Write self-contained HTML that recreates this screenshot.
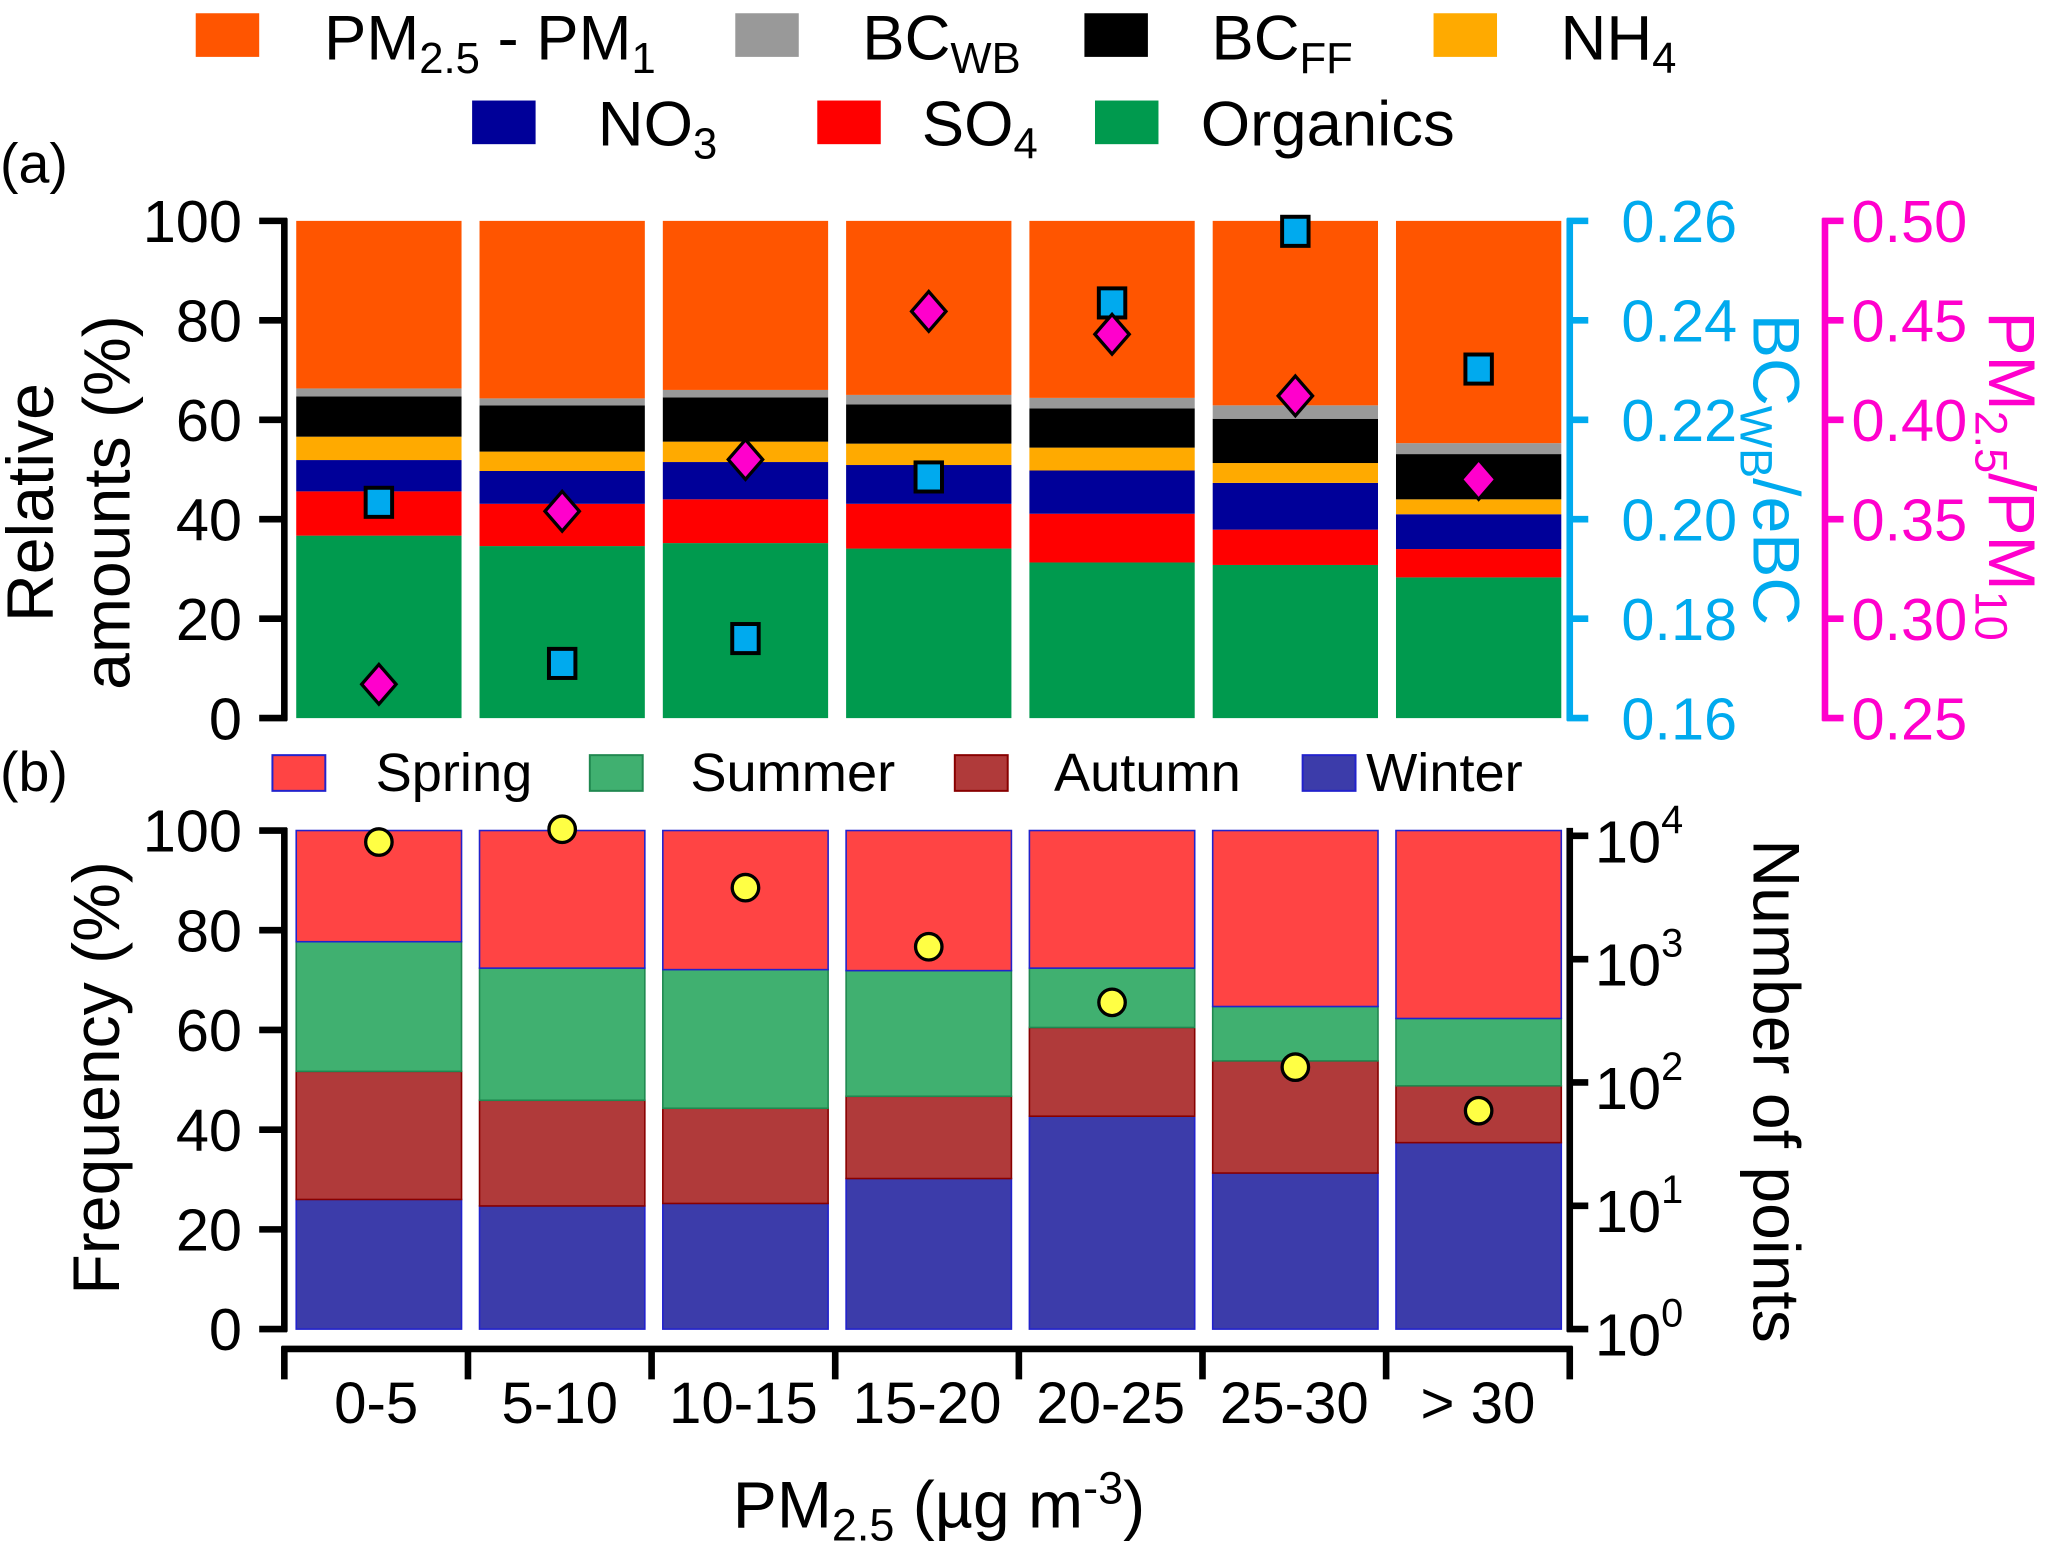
<!DOCTYPE html>
<html><head><meta charset="utf-8"><style>
html,body{margin:0;padding:0;background:#fff}
svg{display:block}
text{font-family:"Liberation Sans",Arial,sans-serif}
</style></head><body>
<svg id="chart" width="2067" height="1546" viewBox="0 0 1563 1169" xmlns="http://www.w3.org/2000/svg">
<g id="legend-top" font-size="48">
 <rect x="148" y="10" width="48" height="33" fill="#FF5500"/>
 <text x="245" y="45">PM<tspan font-size="33" dy="10">2.5</tspan><tspan dy="-10"> - PM</tspan><tspan font-size="33" dy="10">1</tspan></text>
 <rect x="556" y="10" width="48" height="33" fill="#999999"/>
 <text x="652" y="45">BC<tspan font-size="33" dy="10">WB</tspan></text>
 <rect x="820" y="10" width="48" height="33" fill="#000000"/>
 <text x="916" y="45">BC<tspan font-size="33" dy="10">FF</tspan></text>
 <rect x="1084" y="10" width="48" height="33" fill="#FFAA00"/>
 <text x="1180" y="45">NH<tspan font-size="33" dy="10">4</tspan></text>
 <rect x="357" y="76" width="48" height="33" fill="#000099"/>
 <text x="452" y="110">NO<tspan font-size="33" dy="10">3</tspan></text>
 <rect x="618" y="76" width="48" height="33" fill="#FF0000"/>
 <text x="697" y="110">SO<tspan font-size="33" dy="10">4</tspan></text>
 <rect x="828" y="76" width="48" height="33" fill="#009A4E"/>
 <text x="908" y="110">Organics</text>
</g>
<text x="0" y="138" font-size="42">(a)</text>
<text x="0" y="598" font-size="42">(b)</text>
<g id="legend-bottom" font-size="41">
 <rect x="206" y="571" width="40" height="27" fill="#FF4444" stroke="#2222cc" stroke-width="1.5"/>
 <text x="284" y="598">Spring</text>
 <rect x="446" y="571" width="40" height="27" fill="#40B070" stroke="#208850" stroke-width="1.5"/>
 <text x="522" y="598">Summer</text>
 <rect x="722" y="571" width="40" height="27" fill="#B03A3A" stroke="#880000" stroke-width="1.5"/>
 <text x="797" y="598">Autumn</text>
 <rect x="985" y="571" width="40" height="27" fill="#3C3CAA" stroke="#2222cc" stroke-width="1.5"/>
 <text x="1033" y="598">Winter</text>
</g>
<g id="top-bars"></g>
<g id="top-markers"></g>
<g id="bot-bars"></g>
<g id="bot-markers"></g>
<g id="axes"></g>
<text transform="translate(40,380) rotate(-90)" text-anchor="middle" font-size="50">Relative</text>
<text transform="translate(98,380) rotate(-90)" text-anchor="middle" font-size="50">amounts (%)</text>
<text transform="translate(1326,355) rotate(90)" text-anchor="middle" font-size="50" fill="#00AAEE">BC<tspan font-size="34" dy="10">WB</tspan><tspan dy="-10">/eBC</tspan></text>
<text transform="translate(1504,360) rotate(90)" text-anchor="middle" font-size="50" fill="#FF00CC">PM<tspan font-size="34" dy="10">2.5</tspan><tspan dy="-10">/PM</tspan><tspan font-size="34" dy="10">10</tspan></text>
<text transform="translate(90,815) rotate(-90)" text-anchor="middle" font-size="50">Frequency (%)</text>
<text transform="translate(1326,825) rotate(90)" text-anchor="middle" font-size="50">Number of points</text>
<text x="710" y="1155" text-anchor="middle" font-size="50">PM<tspan font-size="34" dy="10">2.5</tspan><tspan dy="-10"> (µg m</tspan><tspan font-size="34" dy="-18">-3</tspan><tspan dy="18">)</tspan></text>
</svg>
<script>
const categories = ["0-5","5-10","10-15","15-20","20-25","25-30","> 30"];
const organics = [36.7,34.6,35.2,34.1,31.3,30.8,28.3];
const so4Top   = [45.6,43.1,44.0,43.1,41.1,37.9,34.0];
const no3Top   = [51.9,49.7,51.5,50.9,49.8,47.3,41.0];
const nh4Top   = [56.6,53.6,55.6,55.2,54.4,51.3,44.0];
const bcffTop  = [64.7,62.9,64.5,63.1,62.3,60.2,53.1];
const bcwbTop  = [66.3,64.3,66.0,65.0,64.4,62.9,55.3];
const ratioBC  = [0.2034,0.171,0.176,0.2085,0.2435,0.2579,0.2302];
const ratioPM  = [0.267,0.354,0.380,0.4545,0.443,0.412,0.370];
const topTicks = [0,20,40,60,80,100];
const bcTicks  = ["0.16","0.18","0.20","0.22","0.24","0.26"];
const pmTicks  = ["0.25","0.30","0.35","0.40","0.45","0.50"];
const winterTop = [26.0,24.7,25.2,30.2,42.7,31.3,37.4];
const autumnTop = [51.7,45.9,44.3,46.7,60.5,53.8,48.8];
const summerTop = [77.7,72.4,72.1,71.9,72.4,64.7,62.3];
const nPoints   = [8900,11300,3800,1260,446,133,59];
const logTicks  = [0,1,2,3,4];

const NS="http://www.w3.org/2000/svg";
function mk(tag,attrs,parent){const e=document.createElementNS(NS,tag);for(const k in attrs)e.setAttribute(k,attrs[k]);parent.appendChild(e);return e;}
const bx0=224, pitch=138.6, bw=125;
const xLeft=i=>bx0+i*pitch, xMid=i=>bx0+i*pitch+bw/2;
const yTop=v=>543-v*3.76;
const yBot=v=>1005-v*3.77;
const yBC=v=>yTop((v-0.16)/0.10*100);
const yPM=v=>yTop((v-0.25)/0.25*100);
const yLog=n=>1005-Math.log10(n)*93.25;

const tb=document.getElementById('top-bars');
const layers=[[null,organics,'#009A4E','organics'],[organics,so4Top,'#FF0000','so4'],[so4Top,no3Top,'#000099','no3'],[no3Top,nh4Top,'#FFAA00','nh4'],[nh4Top,bcffTop,'#000000','bcff'],[bcffTop,bcwbTop,'#999999','bcwb'],[bcwbTop,null,'#FF5500','pm25-pm1']];
categories.forEach((c,i)=>{
 layers.forEach(L=>{
  const lo=L[0]?L[0][i]:0, hi=L[1]?L[1][i]:100;
  const r=mk('rect',{x:xLeft(i),y:yTop(hi),width:bw,height:yTop(lo)-yTop(hi),fill:L[2]},tb);
  
  
 });
});
const tm=document.getElementById('top-markers');
categories.forEach((c,i)=>{
 const cx=xMid(i), sy=yBC(ratioBC[i]);
 const s=mk('rect',{x:cx-10,y:sy-11,width:20,height:22,fill:'#00AAEE',stroke:'#000','stroke-width':3},tm);
 
 
 const dy=yPM(ratioPM[i]);
 const d=mk('polygon',{points:`${cx},${dy-15} ${cx+13},${dy} ${cx},${dy+15} ${cx-13},${dy}`,fill:'#FF00CC',stroke:'#000','stroke-width':2.5},tm);
 
 
});
const bb=document.getElementById('bot-bars');
const sl=[[null,winterTop,'#3C3CAA','#2222cc','winter'],[winterTop,autumnTop,'#B03A3A','#880000','autumn'],[autumnTop,summerTop,'#40B070','#208850','summer'],[summerTop,null,'#FF4444','#2222cc','spring']];
categories.forEach((c,i)=>{
 sl.forEach(L=>{
  const lo=L[0]?L[0][i]:0, hi=L[1]?L[1][i]:100;
  const r=mk('rect',{x:xLeft(i),y:yBot(hi),width:bw,height:yBot(lo)-yBot(hi),fill:L[2],stroke:L[3],'stroke-width':1.2},bb);
  
  
 });
});
const bm=document.getElementById('bot-markers');
categories.forEach((c,i)=>{
 const p=mk('circle',{cx:xMid(i),cy:yLog(nPoints[i]),r:10,fill:'#FFFF44',stroke:'#000','stroke-width':2.5},bm);
 
 
});
const ax=document.getElementById('axes');
function line(x1,y1,x2,y2,col,w,name){const l=mk('line',{x1,y1,x2,y2,stroke:col,'stroke-width':w},ax);return l;}
function txt(x,y,s,anchor,col,size,name){const t=mk('text',{x,y,'text-anchor':anchor,fill:col,'font-size':size},ax);t.textContent=s;return t;}
line(215,165,215,545,'#000',5,'y-axis-top-left');
topTicks.forEach(v=>{line(196,yTop(v),217,yTop(v),'#000',5,'y-tick-top-'+v);txt(183,yTop(v)+16,String(v),'end','#000',45,'y-tick-label-top-'+v);});
line(1187,165,1187,545,'#00AAEE',5,'y-axis-bcwb-ebc');
bcTicks.forEach((s,k)=>{const y=yBC(0.16+k*0.02);line(1185,y,1201,y,'#00AAEE',5,'y-tick-bcwb-'+k);txt(1226,y+16,s,'start','#00AAEE',45,'y-tick-label-bcwb-'+k);});
line(1380,165,1380,545,'#FF00CC',5,'y-axis-pm25-pm10');
pmTicks.forEach((s,k)=>{const y=yPM(0.25+k*0.05);line(1378,y,1394,y,'#FF00CC',5,'y-tick-pm-'+k);txt(1400,y+16,s,'start','#FF00CC',45,'y-tick-label-pm-'+k);});
line(215,626,215,1007,'#000',5,'y-axis-bottom-left');
topTicks.forEach(v=>{line(196,yBot(v),217,yBot(v),'#000',5,'y-tick-bottom-'+v);txt(183,yBot(v)+16,String(v),'end','#000',45,'y-tick-label-bottom-'+v);});
line(1187,626,1187,1007,'#000',5,'y-axis-number-of-points');
logTicks.forEach(e=>{const y=yLog(Math.pow(10,e));line(1185,y,1201,y,'#000',5,'y-tick-log-'+e);
 const t=txt(1206,y+20,'10','start','#000',45,'y-tick-label-log-'+e);
 const ts=document.createElementNS(NS,'tspan');ts.setAttribute('font-size','30');ts.setAttribute('dy','-22');ts.textContent=String(e);t.appendChild(ts);});
line(213,1020,1189,1020,'#000',5,'x-axis');
for(let k=0;k<=7;k++){const x=215+k*(972/7);line(x,1018,x,1043,'#000',5,'x-tick-'+k);}
categories.forEach((c,i)=>txt(215+(i+0.5)*(972/7),1076,c,'middle','#000',44,'x-tick-label-'+i));
</script>
</body></html>
